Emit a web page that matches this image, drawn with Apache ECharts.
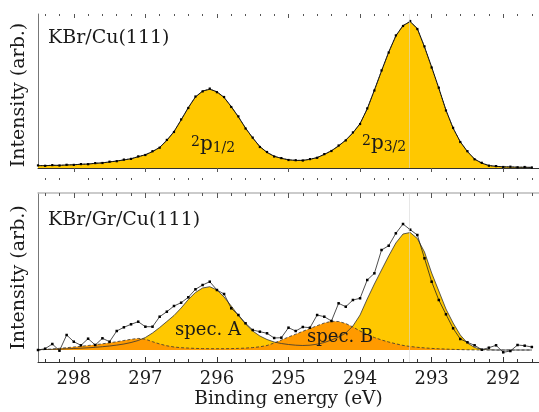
<!DOCTYPE html>
<html><head><meta charset="utf-8">
<script src="https://cdn.jsdelivr.net/npm/echarts@6/dist/echarts.min.js"></script>
<style>html,body{margin:0;padding:0;background:#fff}#c{width:539px;height:412px}</style>
</head><body><div id="c"></div>
<script>
// Binding energy grid (eV)
const energy = [298.5,298.4,298.3,298.2,298.1,298.0,297.9,297.8,297.7,297.6,
  297.5,297.4,297.3,297.2,297.1,297.0,296.9,296.8,296.7,296.6,
  296.5,296.4,296.3,296.2,296.1,296.0,295.9,295.8,295.7,295.6,
  295.5,295.4,295.3,295.2,295.1,295.0,294.9,294.8,294.7,294.6,
  294.5,294.4,294.3,294.2,294.1,294.0,293.9,293.8,293.7,293.6,
  293.5,293.4,293.3,293.2,293.1,293.0,292.9,292.8,292.7,292.6,
  292.5,292.4,292.3,292.2,292.1,292.0,291.9,291.8,291.7,291.6];

// KBr/Cu(111): measured points and fit envelope
const topData = [2.6,2.2,2.9,2.5,3.2,3.1,3.9,3.8,4.9,5.0,
  6.3,6.8,8.4,9.1,11.6,13.0,16.8,20.3,28.1,36.0,
  48.6,60.0,71.5,76.6,79.4,75.8,71.0,61.0,51.6,39.5,
  30.4,21.0,16.0,11.5,9.9,8.0,7.8,7.5,8.9,10.2,
  13.9,17.0,22.5,27.6,35.6,44.0,59.6,77.5,97.6,115.5,
  132.6,142.0,147.0,139.0,121.6,100.5,80.3,57.5,40.2,26.0,
  16.8,8.7,5.2,2.3,1.9,1.0,1.3,0.7,1.0,0.5];
const topFit = [2.3,2.4,2.6,2.7,3.0,3.3,3.7,4.0,4.6,5.2,
  6.0,7.0,8.0,9.3,11.2,13.3,16.3,20.7,27.5,36.5,
  48,60.5,71,77,78.7,76.3,70.5,61.5,51,40,
  30,21.5,15.5,11.8,9.6,8.3,7.5,7.7,8.6,10.5,
  13.5,17.3,22,28,35,44.5,59,78,97,116,
  132,142.5,146.3,139.5,121,101,79.7,58,39.7,26.3,
  16.3,9,4.8,2.5,1.6,1.2,1.0,0.8,0.7,0.6];

// KBr/Gr/Cu(111): measured points, component A and component B (absolute levels over a flat background)
const bottomBaseline = 12;
const bottomData = [12,13.3,18,11.3,27,20.3,16.7,23.3,17,23.7,
  20.3,31,34.7,37.7,40.3,35.3,35.3,45.3,50.3,56,
  59.3,64.7,72.7,77,80.3,72,68,53.7,47,38.7,
  32,30.3,28.7,24,24.3,34.3,31,35,34.3,47,
  45.3,41,58.7,55.3,62,63.7,82,88.7,112,116.3,
  128.7,138,132.3,127,103.7,80.3,62,47.7,33.7,23,
  19.7,16.7,12.3,14.3,16.7,9.7,11,17,16.3,15];
const specA = [12.3,12.5,12.7,12.9,13.2,13.5,13.8,14.2,14.7,15.3,
  16.0,16.9,18.0,19.5,21.5,24.5,29.0,34.5,40.5,46.5,
  54.0,62.5,69.5,74.0,75.3,72.0,65.0,56.0,46.5,38.0,
  31.0,26.0,22.5,20.0,18.5,17.5,16.8,16.5,16.8,17.8,
  19.5,22.0,25.0,29.0,36.0,47.0,63.0,78.0,92.0,106.0,
  119.0,128.0,129.5,123.5,110.0,89.0,71.0,53.0,39.0,27.0,
  19.0,14.5,12.8,12.2,12.0,12.0,12.0,12.0,12.0,12.0];
const specB = [12.0,12.5,13.0,13.7,14.3,15.0,15.7,16.5,17.3,18.2,
  19.2,20.3,21.5,22.7,23.6,22.8,20.3,18.0,16.2,15.0,
  14.3,13.9,13.6,13.4,13.3,13.3,13.3,13.4,13.6,13.9,
  14.4,15.2,16.5,19.0,22.0,25.0,27.8,30.7,33.5,36.3,
  39.0,40.7,40.5,38.5,35.0,31.0,27.5,24.5,22.0,20.0,
  18.2,16.6,15.5,14.7,14.1,13.6,13.2,12.9,12.6,12.4,
  12.2,12.1,12.0,12.0,12.0,12.0,12.0,12.0,12.0,12.0];

// Axis ticks
const majorTicks = [292,293,294,295,296,297,298];
const minorTicks = [291.6,291.8,292.2,292.4,292.6,292.8,293.2,293.4,293.6,293.8,
  294.2,294.4,294.6,294.8,295.2,295.4,295.6,295.8,296.2,296.4,296.6,296.8,
  297.2,297.4,297.6,297.8,298.2,298.4];
const peakMarker = 293.31;

const FONT = '"DejaVu Serif", serif';
const INK = '#1a1a1a';
const YELLOW = '#FFC800';
const ORANGE = '#FF9A00';
const BOTTOM_MAX = 169;

const pairs = a => energy.map((e, i) => [e, a[i]]);

const xBase = {type:'value', min:291.5, max:298.5, inverse:true,
  splitLine:{show:false}, axisLabel:{show:false}, axisTick:{show:false}, axisLine:{show:false}};
const ax = o => Object.assign({}, xBase, o);
const tick = (len, inside, vals, color) => ({show:true, inside:inside, length:len, customValues:vals,
  lineStyle:{color:color || '#555', width:1}});
const hiddenY = o => Object.assign({type:'value', axisLine:{show:false}, axisTick:{show:false},
  axisLabel:{show:false}, splitLine:{show:false}}, o);

const marker = {silent:true, symbol:'none', label:{show:false},
  lineStyle:{color:'rgba(215,215,215,0.6)', width:1, type:'solid'}, data:[{xAxis:peakMarker}]};

const option = {
  animation:false,
  backgroundColor:'#fff',
  grid:[
    {left:38, top:14, width:514, height:154},
    {left:38, top:193, width:514, height:169},
    // same scale as grid 1, floor placed at the background level
    {left:38, top:193, width:514, height:169 - bottomBaseline}
  ],
  xAxis:[
    ax({gridIndex:0, position:'bottom', axisLine:{show:true, onZero:false, lineStyle:{color:'#333', width:1}}}),
    ax({gridIndex:0, position:'bottom', offset:10, axisTick:tick(4, false, majorTicks)}),
    ax({gridIndex:0, position:'bottom', offset:10, axisTick:tick(2, false, minorTicks)}),
    ax({gridIndex:0, position:'top', axisTick:tick(4, true, majorTicks)}),
    ax({gridIndex:0, position:'top', axisTick:tick(2, true, minorTicks)}),
    ax({gridIndex:1, position:'bottom', axisLine:{show:true, onZero:false, lineStyle:{color:'#333', width:1}},
      axisTick:tick(5, true, majorTicks, '#333'),
      axisLabel:{show:true, customValues:majorTicks, margin:8, fontFamily:FONT, fontSize:18, color:INK},
      name:'Binding energy (eV)', nameLocation:'middle', nameGap:28,
      nameTextStyle:{fontFamily:FONT, fontSize:18.5, color:INK}}),
    ax({gridIndex:1, position:'bottom', axisTick:tick(3, true, minorTicks, '#333')}),
    ax({gridIndex:1, position:'top', axisLine:{show:true, onZero:false, lineStyle:{color:'#bbb', width:1.5}},
      axisTick:tick(5, true, majorTicks)}),
    ax({gridIndex:1, position:'top', axisTick:tick(3, true, minorTicks)}),
    ax({gridIndex:2, position:'bottom'})
  ],
  yAxis:[
    {type:'value', gridIndex:0, min:0, max:154, axisLine:{show:true, lineStyle:{color:'#777'}},
      axisTick:{show:false}, axisLabel:{show:false}, splitLine:{show:false},
      name:'Intensity (arb.)', nameLocation:'middle', nameGap:9,
      nameTextStyle:{fontFamily:FONT, fontSize:19, color:INK, padding:[0,8,0,0]}},
    {type:'value', gridIndex:1, min:0, max:BOTTOM_MAX, axisLine:{show:true, lineStyle:{color:'#777'}},
      axisTick:{show:false}, axisLabel:{show:false}, splitLine:{show:false},
      name:'Intensity (arb.)', nameLocation:'middle', nameGap:9,
      nameTextStyle:{fontFamily:FONT, fontSize:19, color:INK}},
    hiddenY({gridIndex:2, min:bottomBaseline, max:BOTTOM_MAX})
  ],
  series:[
    // top panel
    {type:'line', xAxisIndex:0, yAxisIndex:0, data:pairs(topFit), symbol:'none',
      lineStyle:{color:'#222', width:1}, areaStyle:{color:YELLOW, opacity:1}, markLine:marker, z:2},
    {type:'line', xAxisIndex:0, yAxisIndex:0, data:pairs(topData), symbol:'rect', symbolSize:2.2,
      itemStyle:{color:'#000'}, lineStyle:{color:'#000', width:0.8, type:'dotted'}, z:3},
    // bottom panel fills (floor = background level)
    {type:'line', xAxisIndex:9, yAxisIndex:2, data:pairs(specA), symbol:'none',
      lineStyle:{opacity:0}, areaStyle:{color:YELLOW, opacity:1, origin:'start'}, z:2},
    {type:'line', xAxisIndex:9, yAxisIndex:2, data:pairs(specB), symbol:'none',
      lineStyle:{opacity:0}, areaStyle:{color:ORANGE, opacity:1, origin:'start'}, z:2},
    // component outlines
    {type:'line', xAxisIndex:5, yAxisIndex:1, data:pairs(specA), symbol:'none',
      lineStyle:{color:'#333', width:0.8}, markLine:marker, z:3},
    {type:'line', xAxisIndex:5, yAxisIndex:1, data:pairs(specB), symbol:'none',
      lineStyle:{color:'#333', width:0.8, type:[3,2]}, z:3},
    // measured points
    {type:'line', xAxisIndex:5, yAxisIndex:1, data:pairs(bottomData), symbol:'rect', symbolSize:2.5,
      itemStyle:{color:'#000'}, lineStyle:{color:'#222', width:0.8}, z:4}
  ],
  graphic:[
    {type:'text', left:48, top:29, z:10, style:{text:'KBr/Cu(111)', font:'19px "DejaVu Serif"', fill:INK}},
    {type:'text', left:48, top:211, z:10, style:{text:'KBr/Gr/Cu(111)', font:'19px "DejaVu Serif"', fill:INK}},
    {type:'text', left:191, top:135, z:10, style:{text:'{n|2}{p|p}{s|1/2}', fill:INK,
      rich:{n:{fontFamily:FONT, fontSize:14, verticalAlign:'top', fill:INK},
            p:{fontFamily:FONT, fontSize:20, fill:INK},
            s:{fontFamily:FONT, fontSize:14, verticalAlign:'bottom', fill:INK}}}},
    {type:'text', left:362, top:134, z:10, style:{text:'{n|2}{p|p}{s|3/2}', fill:INK,
      rich:{n:{fontFamily:FONT, fontSize:14, verticalAlign:'top', fill:INK},
            p:{fontFamily:FONT, fontSize:20, fill:INK},
            s:{fontFamily:FONT, fontSize:14, verticalAlign:'bottom', fill:INK}}}},
    {type:'text', left:175, top:321, z:10, style:{text:'spec. A', font:'18px "DejaVu Serif"', fill:INK}},
    {type:'text', left:307, top:328, z:10, style:{text:'spec. B', font:'18px "DejaVu Serif"', fill:INK}}
  ]
};
const chart = echarts.init(document.getElementById('c'), null, {renderer:'canvas', width:539, height:412});
chart.setOption(option);
</script>
</body></html>
